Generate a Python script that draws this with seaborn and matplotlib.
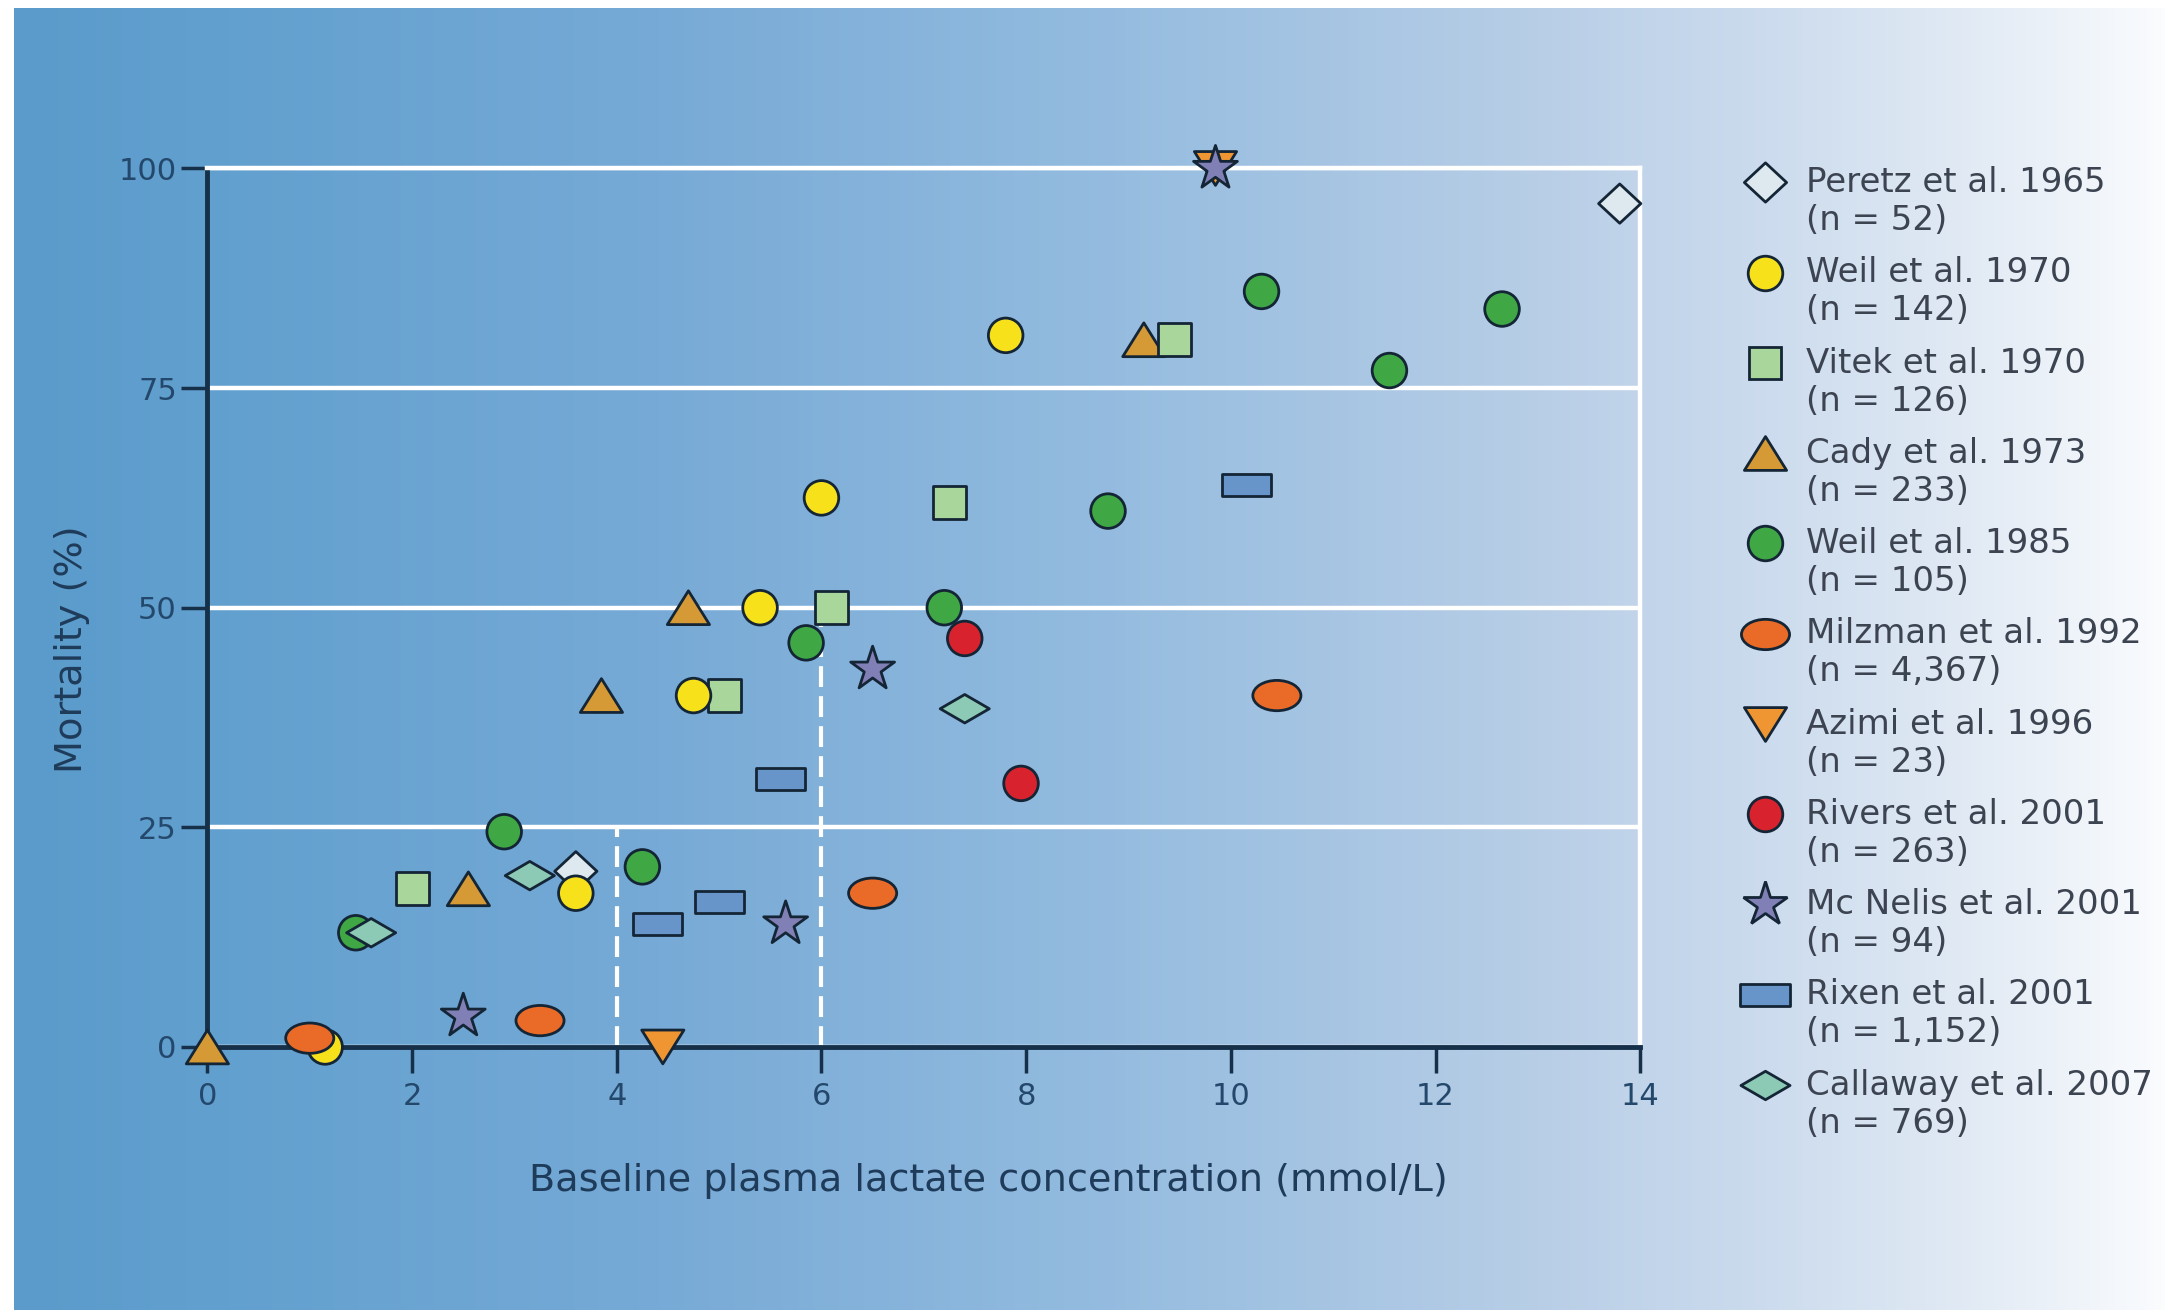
import numpy as np
import pandas as pd
import matplotlib
matplotlib.use("Agg")
import matplotlib.pyplot as plt
import seaborn as sns
from matplotlib.path import Path
from matplotlib.transforms import Affine2D
from matplotlib.legend_handler import HandlerLine2D
from matplotlib.lines import Line2D
from matplotlib.colors import to_rgb
from matplotlib import font_manager

# legend order of the studies
studies = [
    "Peretz et al. 1965", "Weil et al. 1970", "Vitek et al. 1970", "Cady et al. 1973",
    "Weil et al. 1985", "Milzman et al. 1992", "Azimi et al. 1996", "Rivers et al. 2001",
    "Mc Nelis et al. 2001", "Rixen et al. 2001", "Callaway et al. 2007",
]
sample_sizes = ["52", "142", "126", "233", "105", "4,367", "23", "263", "94", "1,152", "769"]

# baseline lactate (mmol/L) and mortality (%) per study
peretz_x = [3.6, 13.8]
peretz_y = [20, 96]
cady_x = [0.0, 2.55, 3.85, 4.7, 9.15]
cady_y = [0, 18, 40, 50, 80.5]
vitek_x = [2.0, 5.05, 6.1, 7.25, 9.45]
vitek_y = [18, 40, 50, 62, 80.5]
weil70_x = [1.15, 3.6, 4.75, 5.4, 6.0, 7.8]
weil70_y = [0, 17.5, 40, 50, 62.5, 81]
weil85_x = [1.45, 2.9, 4.25, 5.85, 7.2, 8.8, 10.3, 11.55, 12.65]
weil85_y = [13, 24.5, 20.5, 46, 50, 61, 86, 77, 84]
milzman_x = [1.0, 3.25, 6.5, 10.45]
milzman_y = [1, 3, 17.5, 40]
azimi_x = [4.45, 9.85]
azimi_y = [0, 100]
rivers_x = [7.95, 7.4]
rivers_y = [30, 46.5]
mcnelis_x = [2.5, 5.65, 6.5, 9.85]
mcnelis_y = [3.5, 14, 43, 100]
rixen_x = [4.4, 5.0, 5.6, 10.15]
rixen_y = [14, 16.5, 30.5, 64]
callaway_x = [1.6, 3.15, 7.4]
callaway_y = [13, 19.5, 38.5]

x_ticks = [0, 2, 4, 6, 8, 10, 12, 14]
y_ticks = [0, 25, 50, 75, 100]
cutoff_x = [4, 6]
cutoff_top = [25, 50]

palette = {
    "Peretz et al. 1965": "#dde9ef",
    "Weil et al. 1970": "#f7e11b",
    "Vitek et al. 1970": "#a9d69b",
    "Cady et al. 1973": "#d59a35",
    "Weil et al. 1985": "#3fa845",
    "Milzman et al. 1992": "#ea6a27",
    "Azimi et al. 1996": "#ef9633",
    "Rivers et al. 2001": "#d8232e",
    "Mc Nelis et al. 2001": "#8080b6",
    "Rixen et al. 2001": "#6795ca",
    "Callaway et al. 2007": "#8ccab5",
}


def closed_path(points):
    pts = list(points) + [points[0]]
    codes = [Path.MOVETO] + [Path.LINETO] * (len(points) - 1) + [Path.CLOSEPOLY]
    return Path(pts, codes)


diamond = closed_path([(-1, 0), (0, -0.93), (1, 0), (0, 0.93)])
flat_diamond = closed_path([(-1, 0), (0, -0.58), (1, 0), (0, 0.58)])
wide_rect = closed_path([(-1, -0.45), (1, -0.45), (1, 0.45), (-1, 0.45)])
ellipse = Path.unit_circle().transformed(Affine2D().scale(1, 0.63))
tri_up = closed_path([(0, 0.8), (-1, -0.8), (1, -0.8)])
tri_down = closed_path([(0, -0.8), (1, 0.8), (-1, 0.8)])

markers = {
    "Peretz et al. 1965": diamond,
    "Weil et al. 1970": "o",
    "Vitek et al. 1970": "s",
    "Cady et al. 1973": tri_up,
    "Weil et al. 1985": "o",
    "Milzman et al. 1992": ellipse,
    "Azimi et al. 1996": tri_down,
    "Rivers et al. 2001": "o",
    "Mc Nelis et al. 2001": "*",
    "Rixen et al. 2001": wide_rect,
    "Callaway et al. 2007": flat_diamond,
}
sizes = {
    "Peretz et al. 1965": 925, "Weil et al. 1970": 620, "Vitek et al. 1970": 560,
    "Cady et al. 1973": 925, "Weil et al. 1985": 620, "Milzman et al. 1992": 1200,
    "Azimi et al. 1996": 925, "Rivers et al. 2001": 620, "Mc Nelis et al. 2001": 1100,
    "Rixen et al. 2001": 1250, "Callaway et al. 2007": 1250,
}

# rows in drawing order (later rows sit on top where markers overlap)
draw_order = [
    ("Peretz et al. 1965", peretz_x, peretz_y),
    ("Cady et al. 1973", cady_x, cady_y),
    ("Vitek et al. 1970", vitek_x, vitek_y),
    ("Weil et al. 1970", weil70_x, weil70_y),
    ("Weil et al. 1985", weil85_x, weil85_y),
    ("Milzman et al. 1992", milzman_x, milzman_y),
    ("Azimi et al. 1996", azimi_x, azimi_y),
    ("Rivers et al. 2001", rivers_x, rivers_y),
    ("Mc Nelis et al. 2001", mcnelis_x, mcnelis_y),
    ("Rixen et al. 2001", rixen_x, rixen_y),
    ("Callaway et al. 2007", callaway_x, callaway_y),
]
df = pd.concat(
    [pd.DataFrame({"lactate": xs, "mortality": ys, "study": name}) for name, xs, ys in draw_order],
    ignore_index=True,
)


class FirstLineHandler(HandlerLine2D):
    """Put the legend marker beside the first line of a two-line label."""

    def create_artists(self, legend, orig_handle, xdescent, ydescent, width, height, fontsize, trans):
        artists = super().create_artists(legend, orig_handle, xdescent, ydescent,
                                         width, height, fontsize, trans)
        for a in artists:
            a.set_ydata(np.asarray(a.get_ydata()) + 0.6 * fontsize)
        return artists


sns.set_style("ticks")
plt.rcParams["font.family"] = ["DejaVu Sans"]

installed = {f.name for f in font_manager.fontManager.ttflist}
if "Liberation Sans Narrow" in installed:
    label_font = {"family": "Liberation Sans Narrow", "size": 33}
else:
    label_font = {"family": "DejaVu Sans", "size": 27.5}

dark = "#16304a"
fig = plt.figure(figsize=(21.65, 13.1), dpi=100, facecolor="white")

# blue-to-white backdrop
bg_stops = [0.0, 0.1, 0.3, 0.5, 0.7, 0.82, 0.92, 1.0]
bg_colors = ["#5a9bcb", "#62a0cf", "#77aad6", "#93bbdf", "#b6cde6", "#cddcee", "#e4ecf5", "#fafcfe"]
bg = fig.add_axes([14 / 2165, 0, 1 - 14 / 2165, 1 - 8 / 1310], zorder=0)
ramp = np.linspace(0, 1, 600)
rgb = np.array([to_rgb(c) for c in bg_colors])
img = np.stack([np.interp(ramp, bg_stops, rgb[:, i]) for i in range(3)], axis=-1)[None, :, :]
bg.imshow(img, aspect="auto", extent=[0, 1, 0, 1])
bg.set_axis_off()

ax = fig.add_axes([0.0958, 0.2008, 0.6618, 0.6706], zorder=1)
ax.set_facecolor("none")

sns.scatterplot(
    data=df, x="lactate", y="mortality",
    hue="study", style="study", size="study",
    hue_order=studies, style_order=studies, size_order=studies,
    palette=palette, markers=markers, sizes=sizes,
    edgecolor="#142536", linewidth=2, legend="full",
    zorder=3, clip_on=False, ax=ax,
)

# cut-off guides at 4 and 6 mmol/L
ax.vlines(cutoff_x, 0, cutoff_top, colors="white", linestyles=(0, (5, 2.2)), linewidth=3, zorder=2)

ax.set_xlim(0, 14)
ax.set_ylim(0, 100)
ax.set_xticks(x_ticks)
ax.set_yticks(y_ticks)
ax.yaxis.grid(True, color="white", linewidth=3.2)
ax.xaxis.grid(False)
ax.set_axisbelow(True)

for side in ["left", "bottom"]:
    ax.spines[side].set_color(dark)
    ax.spines[side].set_linewidth(3.5)
for side in ["top", "right"]:
    ax.spines[side].set_color("white")
    ax.spines[side].set_linewidth(3.2)

ax.tick_params(axis="both", direction="out", length=19, width=2.5, color=dark,
               labelsize=22, labelcolor="#24486b")
ax.tick_params(axis="x", pad=6)
ax.tick_params(axis="y", pad=3)

ax.set_xlabel("Baseline plasma lactate concentration (mmol/L)", color="#1f3b5a", **label_font)
ax.xaxis.set_label_coords(0.545, -0.132)
ax.set_ylabel("Mortality (%)", color="#1f3b5a", va="center", **label_font)
ax.yaxis.set_label_coords(-0.0944, 0.453)

new_labels = [f"{s}\n(n = {n})" for s, n in zip(studies, sample_sizes)]
sns.move_legend(
    ax, "upper left", labels=new_labels, title=None,
    bbox_to_anchor=(1745 / 2165, 1 - 166 / 1310), bbox_transform=fig.transFigure,
    frameon=False, fontsize=24.5, labelcolor="#3d4451",
    handlelength=1.2, handletextpad=0.6, labelspacing=0.56,
    borderpad=0, borderaxespad=0,
    handler_map={Line2D: FirstLineHandler()},
)

fig.savefig("out.png", dpi=100, facecolor=fig.get_facecolor())
